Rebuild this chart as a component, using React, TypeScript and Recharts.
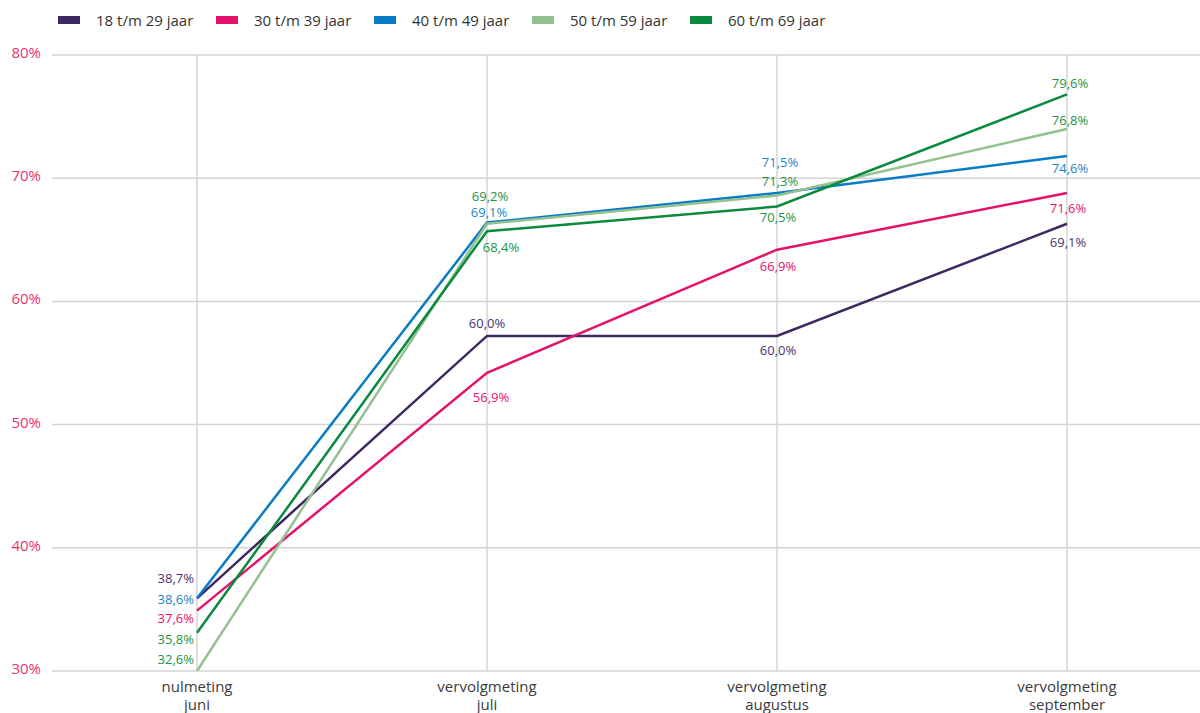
import React from 'react';
import { LineChart, Line, XAxis, YAxis, Legend, LabelList, ReferenceLine } from 'recharts';

const categories = ['nulmeting juni', 'vervolgmeting juli', 'vervolgmeting augustus', 'vervolgmeting september'];
const yTicks = [30, 40, 50, 60, 70, 80];

const seriesNames = ['18 t/m 29 jaar', '30 t/m 39 jaar', '40 t/m 49 jaar', '50 t/m 59 jaar', '60 t/m 69 jaar'];

const s18_29 = [35.9, 57.2, 57.2, 66.3];
const s30_39 = [34.9, 54.2, 64.2, 68.8];
const s40_49 = [35.9, 66.4, 68.8, 71.8];
const s50_59 = [30.0, 66.3, 68.6, 74.0];
const s60_69 = [33.1, 65.7, 67.7, 76.8];

const l18_29 = ['38,7%', '60,0%', '60,0%', '69,1%'];
const l30_39 = ['37,6%', '56,9%', '66,9%', '71,6%'];
const l40_49 = ['38,6%', '69,1%', '71,5%', '74,6%'];
const l50_59 = ['32,6%', '69,2%', '71,3%', '76,8%'];
const l60_69 = ['35,8%', '68,4%', '70,5%', '79,6%'];

const data = categories.map((c, i) => ({
  cat: c,
  a: s18_29[i],
  b: s30_39[i],
  c: s40_49[i],
  d: s50_59[i],
  e: s60_69[i],
}));

const FONT = '"Open Sans", sans-serif';

// style config: line colours, label colours, label offsets (dx, dy) per point
const lineColors = ['#3e2862', '#e4126b', '#0a7cc6', '#93c190', '#0a8a3d'];
const labelColors = ['#4a3570', '#e4126b', '#1a84c9', '#1a9548', '#1a9548'];
const labelOffsets: [number, number][][] = [
  [[-3, -20], [0, -13], [1, 14], [1, 18]],
  [[-3, 7], [4, 24], [1, 16], [1, 15]],
  [[-3, 1], [2, -11], [3, -31], [3, 12]],
  [[-3, -12], [3, -28], [3, -14], [3, -9]],
  [[-3, 6], [14, 16], [1, 10], [3, -11]],
];

const labelTexts = [l18_29, l30_39, l40_49, l50_59, l60_69];
const keys = ['a', 'b', 'c', 'd', 'e'];
const GRID = '#d4d4d4';

const makeLabel = (si: number) => (props: any) => {
  const { x, y, index } = props;
  const [dx, dy] = labelOffsets[si][index];
  return (
    <text
      x={x + dx}
      y={y + dy}
      textAnchor={index === 0 ? 'end' : 'middle'}
      dominantBaseline="central"
      fill={labelColors[si]}
      fontSize={13}
      fontFamily={FONT}
    >
      {labelTexts[si][index]}
    </text>
  );
};

const YTick = (props: any) => {
  const { x, y, payload } = props;
  return (
    <text x={x} y={y - 3} textAnchor="end" dominantBaseline="central" fill="#e8336f" fontSize={15} fontFamily={FONT}>
      {payload.value}%
    </text>
  );
};

const XTick = (props: any) => {
  const { x, y, payload } = props;
  const s = String(payload.value);
  const idx = s.indexOf(' ');
  const l1 = s.slice(0, idx);
  const l2 = s.slice(idx + 1);
  return (
    <g>
      <text x={x} y={y + 15} textAnchor="middle" dominantBaseline="central" fill="#3c3c3c" fontSize={15} fontFamily={FONT}>
        {l1}
      </text>
      <text x={x} y={y + 33} textAnchor="middle" dominantBaseline="central" fill="#3c3c3c" fontSize={15} fontFamily={FONT}>
        {l2}
      </text>
    </g>
  );
};

const LegendContent = () => (
  <div style={{ position: 'relative', width: 1200, height: 40 }}>
    {seriesNames.map((n, i) => (
      <div
        key={n}
        style={{
          position: 'absolute',
          left: 58 + i * 158,
          top: 9,
          display: 'flex',
          alignItems: 'center',
          height: 22,
          fontFamily: FONT,
          fontSize: 15,
          color: '#333',
          whiteSpace: 'nowrap',
        }}
      >
        <span style={{ display: 'inline-block', width: 22, height: 8, background: lineColors[i], marginRight: 16 }} />
        <span>{n}</span>
      </div>
    ))}
  </div>
);

export default function App() {
  return (
    <div style={{ position: 'absolute', left: 0, top: 0, width: 1200, height: 713, background: '#fff' }}>
      <LineChart width={1200} height={713} data={data} margin={{ top: 15, right: 0, bottom: 0, left: 0 }}>
        <XAxis
          dataKey="cat"
          padding={{ left: 145, right: 133 }}
          height={42}
          axisLine={false}
          tickLine={false}
          tickSize={0}
          tickMargin={0}
          interval={0}
          tick={<XTick />}
        />
        <YAxis
          domain={[30, 80]}
          ticks={yTicks}
          width={52}
          axisLine={false}
          tickLine={false}
          tickSize={0}
          tickMargin={11}
          tick={<YTick />}
          allowDataOverflow
        />
        {yTicks.map((t) => (
          <ReferenceLine key={'h' + t} y={t} stroke={GRID} strokeWidth={1.5} />
        ))}
        {categories.map((c) => (
          <ReferenceLine key={c} x={c} stroke={GRID} strokeWidth={1.5} />
        ))}
        <Legend verticalAlign="top" align="left" wrapperStyle={{ top: 0, left: 0, width: 1200, height: 40 }} content={<LegendContent />} />
        {keys.map((k, i) => (
          <Line
            key={k}
            type="linear"
            dataKey={k}
            name={seriesNames[i]}
            stroke={lineColors[i]}
            strokeWidth={2.5}
            dot={false}
            activeDot={false}
            isAnimationActive={false}
          >
            <LabelList dataKey={k} content={makeLabel(i)} />
          </Line>
        ))}
      </LineChart>
    </div>
  );
}
